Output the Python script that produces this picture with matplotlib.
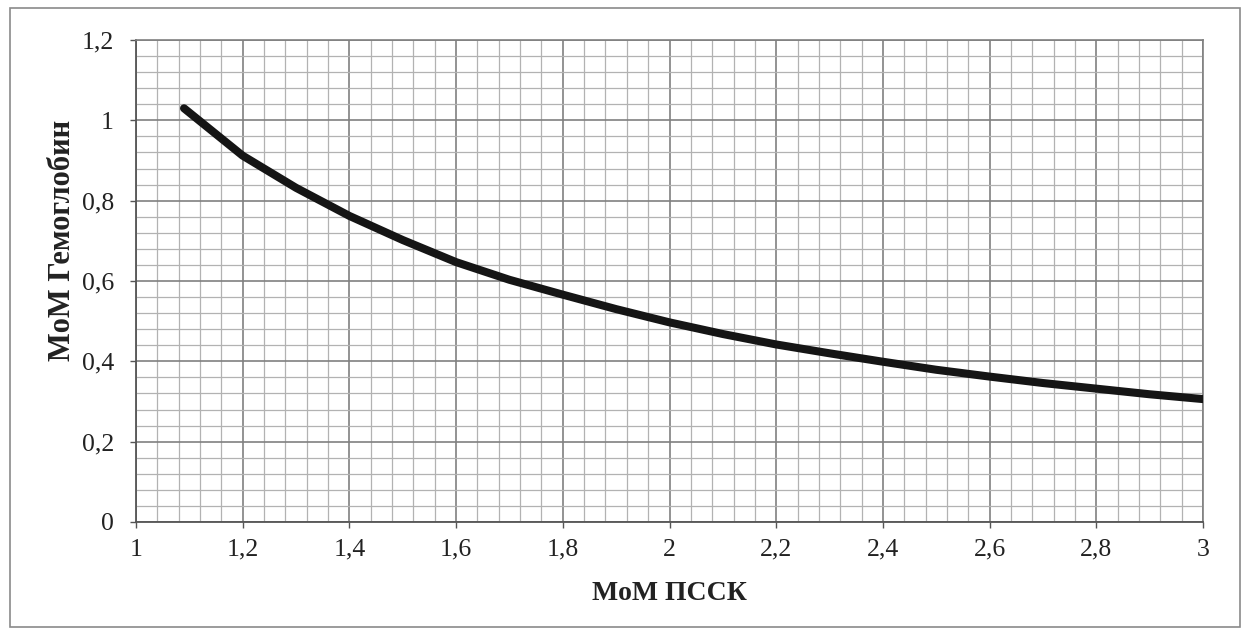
import matplotlib
matplotlib.use("Agg")
import matplotlib.pyplot as plt
from matplotlib.patches import Rectangle
from matplotlib.ticker import MultipleLocator, FuncFormatter

# Data
mom_pssk = [1.09, 1.2, 1.3, 1.4, 1.5, 1.6, 1.7, 1.8, 1.9, 2.0,
            2.1, 2.2, 2.3, 2.4, 2.5, 2.6, 2.7, 2.8, 2.9, 3.0]
mom_hb = [1.03, 0.912, 0.832, 0.762, 0.702, 0.647, 0.603, 0.566, 0.530, 0.497,
          0.468, 0.442, 0.420, 0.399, 0.379, 0.362, 0.346, 0.332, 0.318, 0.306]

x_label = "MoM ПССК"
y_label = "MoM Гемоглобин"

plt.rcParams['font.family'] = ['Liberation Serif', 'DejaVu Serif']

W, H = 1247, 638
fig = plt.figure(figsize=(W / 100, H / 100), dpi=100)
fig.patch.set_facecolor('white')
ax = fig.add_axes([136 / W, 1 - 522 / H, (1203 - 136) / W, (522 - 40) / H])

ax.plot(mom_pssk, mom_hb, color='#151515', lw=5.8, solid_capstyle='round',
        solid_joinstyle='round', zorder=5)

ax.set_xlim(1, 3)
ax.set_ylim(0, 1.2)
ax.xaxis.set_major_locator(MultipleLocator(0.2))
ax.yaxis.set_major_locator(MultipleLocator(0.2))
ax.xaxis.set_minor_locator(MultipleLocator(0.04))
ax.yaxis.set_minor_locator(MultipleLocator(0.04))


def fmt(v, pos):
    s = f"{v:.1f}"
    if s.endswith(".0"):
        s = s[:-2]
    return s.replace(".", ",")


ax.xaxis.set_major_formatter(FuncFormatter(fmt))
ax.yaxis.set_major_formatter(FuncFormatter(fmt))

ax.grid(which='major', color='#808080', lw=1.2)
ax.grid(which='minor', color='#b2b2b2', lw=0.9)
ax.set_axisbelow(True)

ax.tick_params(which='major', direction='out', length=4, width=1, color='#555555',
               labelsize=18.5, labelcolor='#222222')
ax.tick_params(axis='x', which='major', pad=8)
ax.tick_params(axis='y', which='major', pad=12)
ax.tick_params(which='minor', length=0)

for side in ['top', 'right']:
    ax.spines[side].set_color('#808080')
    ax.spines[side].set_linewidth(1.2)
for side in ['left', 'bottom']:
    ax.spines[side].set_color('#555555')
    ax.spines[side].set_linewidth(1.3)

fig.text(669 / W, 1 - 593 / H, x_label, fontsize=20, fontweight='bold',
         color='#222222', ha='center', va='center')
fig.text(62 / W, 1 - 240 / H, y_label, fontsize=22, fontweight='bold',
         color='#222222', ha='center', va='center', rotation=90)

fig.patches.append(Rectangle((10 / W, 1 - 627 / H), 1230 / W, 619 / H,
                             transform=fig.transFigure, fill=False,
                             edgecolor='#8a8a8a', lw=1.2))

fig.savefig("out.png", dpi=100, facecolor='white')
